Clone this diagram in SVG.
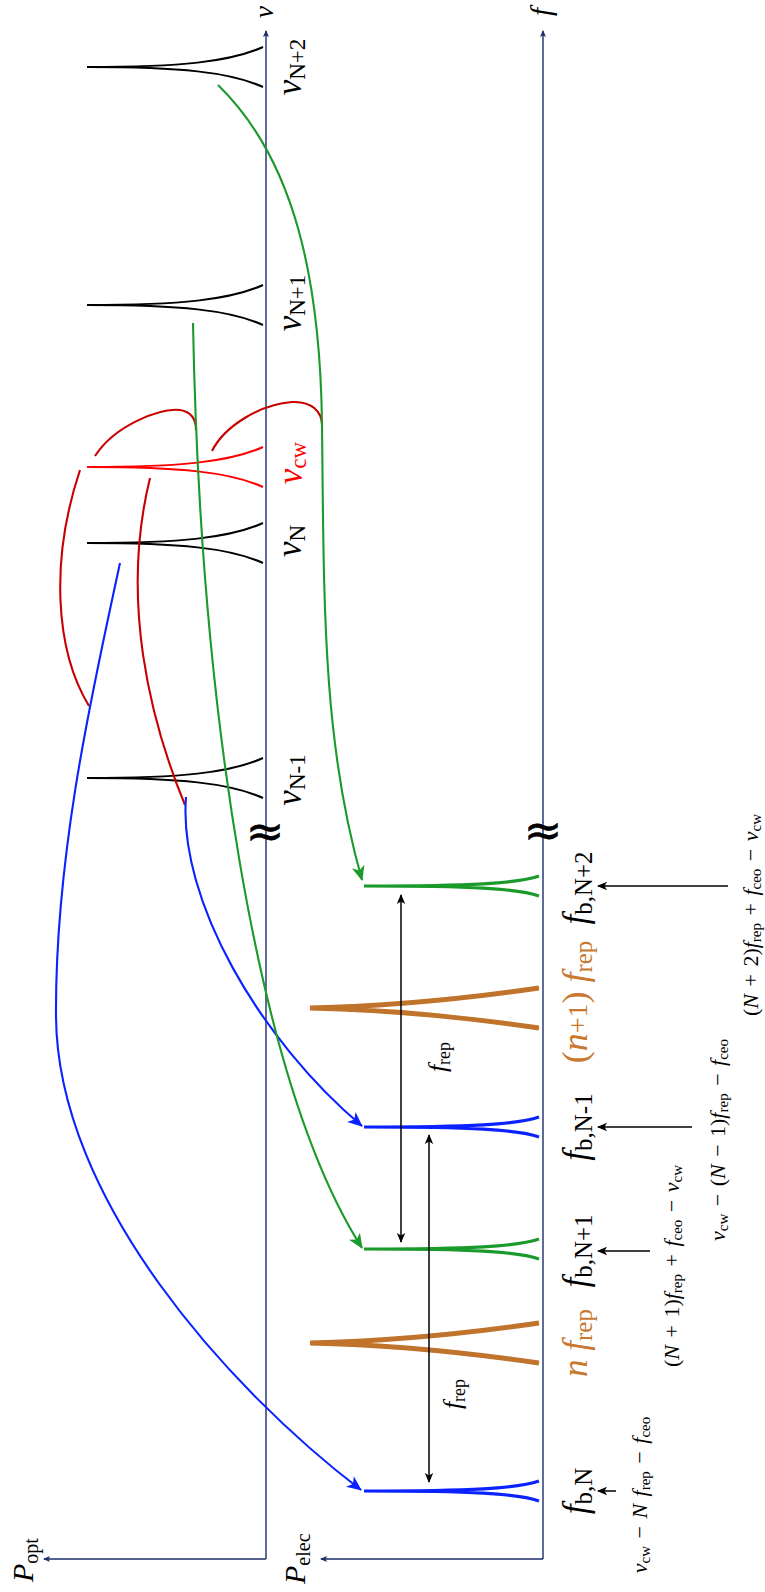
<svg xmlns="http://www.w3.org/2000/svg" width="765" height="1592" viewBox="0 0 765 1592">
<defs>
<style>
text{font-family:"Liberation Serif","DejaVu Serif",serif;fill:#000}
.it{font-style:italic}
.ax{fill:none;stroke:#1b2d6b;stroke-width:1.4}
.pk{fill:none;stroke:#000;stroke-width:2}
.pkr{fill:none;stroke:#ff0000;stroke-width:2}
.eg{fill:none;stroke:#1a9a2a;stroke-width:3.2}
.eb{fill:none;stroke:#0a22ff;stroke-width:3.2}
.ebr{fill:none;stroke:#c0732a;stroke-width:4.8}
.cb{fill:none;stroke:#0a22ff;stroke-width:2.1}
.cg{fill:none;stroke:#1a9a2a;stroke-width:2.1}
.cr{fill:none;stroke:#c80000;stroke-width:2.1}
.ar{fill:none;stroke:#000;stroke-width:1.5}
.or{fill:#c8782f}
.brk{font-family:"DejaVu Sans",sans-serif;font-size:46px;stroke:#000;stroke-width:0.6}
</style>
<marker id="mAx" viewBox="-8 -4 10 8" markerWidth="10" markerHeight="8" refX="0" refY="0" orient="auto" markerUnits="userSpaceOnUse"><path d="M1,0 L-6,-3 L-4.5,0 L-6,3 z" fill="#1b2d6b"/></marker>
<marker id="mB" viewBox="-16 -8 18 16" markerWidth="18" markerHeight="16" refX="0" refY="0" orient="auto" markerUnits="userSpaceOnUse"><path d="M1,0 L-14,-6.5 L-10,0 L-14,6.5 z" fill="#0a22ff"/></marker>
<marker id="mG" viewBox="-16 -8 18 16" markerWidth="18" markerHeight="16" refX="0" refY="0" orient="auto" markerUnits="userSpaceOnUse"><path d="M1,0 L-14,-6.5 L-10,0 L-14,6.5 z" fill="#1a9a2a"/></marker>
<marker id="mK" viewBox="-12 -6 14 12" markerWidth="14" markerHeight="12" refX="0" refY="0" orient="auto-start-reverse" markerUnits="userSpaceOnUse"><path d="M1,0 L-9,-4.2 L-6.5,0 L-9,4.2 z" fill="#000"/></marker>
<path id="opk" d="M263,-20 C230,-5 180,0 87,0 C180,0 230,5 263,20"/>
<path id="epk" d="M539,-10 C518,-2.5 470,0 364,0 C470,0 518,2.5 539,10"/>
<path id="bpk" d="M539,-20 C470,-10 400,-2 310,0 C400,2 470,10 539,20"/>
</defs>

<g id="axes">
<path class="ax" d="M266,1559 V31" marker-end="url(#mAx)"/>
<path class="ax" d="M266,1559 H44" marker-end="url(#mAx)"/>
<path class="ax" d="M543,1559 V31" marker-end="url(#mAx)"/>
<path class="ax" d="M543,1559 H321" marker-end="url(#mAx)"/>
<text class="it" font-size="27" text-anchor="middle" transform="translate(273,12) rotate(-90)">ν</text>
<text class="it" font-size="29" text-anchor="middle" transform="translate(551,12) rotate(-90)">f</text>
<text transform="translate(33,1582) rotate(-90)" font-size="30"><tspan class="it">P</tspan><tspan font-size="20" dy="5">opt</tspan></text>
<text transform="translate(305,1584) rotate(-90)" font-size="30"><tspan class="it">P</tspan><tspan font-size="20" dy="5">elec</tspan></text>
<text class="brk" text-anchor="middle" x="265" y="847">≈</text>
<text class="brk" text-anchor="middle" x="543" y="846">≈</text>
</g>

<g id="nu-N2"><use href="#opk" class="pk" transform="translate(0,67)"/>
<text transform="translate(301,67) rotate(-90)" text-anchor="middle" font-size="35"><tspan class="it">ν</tspan><tspan font-size="23" dy="4">N+2</tspan></text></g>
<g id="nu-N1"><use href="#opk" class="pk" transform="translate(0,305)"/>
<text transform="translate(301,303) rotate(-90)" text-anchor="middle" font-size="35"><tspan class="it">ν</tspan><tspan font-size="23" dy="4">N+1</tspan></text></g>
<g id="nu-cw"><use href="#opk" class="pkr" transform="translate(0,467)"/>
<text transform="translate(302,463) rotate(-90)" text-anchor="middle" font-size="35" fill="#ff0000"><tspan class="it" fill="#ff0000">ν</tspan><tspan font-size="23" dy="4" fill="#ff0000">cw</tspan></text></g>
<g id="nu-N"><use href="#opk" class="pk" transform="translate(0,543)"/>
<text transform="translate(301,541) rotate(-90)" text-anchor="middle" font-size="35"><tspan class="it">ν</tspan><tspan font-size="23" dy="4">N</tspan></text></g>
<g id="nu-Nm1"><use href="#opk" class="pk" transform="translate(0,778)"/>
<text transform="translate(301,780) rotate(-90)" text-anchor="middle" font-size="35"><tspan class="it">ν</tspan><tspan font-size="23" dy="4">N-1</tspan></text></g>

<g id="fb-N2"><use href="#epk" class="eg" transform="translate(0,886)"/>
<text transform="translate(587,888) rotate(-90)" text-anchor="middle" font-size="35"><tspan class="it">f</tspan><tspan font-size="25" dy="5">b,N+2</tspan></text></g>
<g id="frep-n1"><use href="#bpk" class="ebr" transform="translate(0,1008)"/>
<text transform="translate(587,1002) rotate(-90)" text-anchor="middle" font-size="36" class="or"><tspan class="or">(</tspan><tspan class="it or">n</tspan><tspan class="or" font-size="28">+1</tspan><tspan class="or">) </tspan><tspan class="it or">f</tspan><tspan class="or" font-size="25" dy="5">rep</tspan></text></g>
<g id="fb-Nm1"><use href="#epk" class="eb" transform="translate(0,1127)"/>
<text transform="translate(587,1127) rotate(-90)" text-anchor="middle" font-size="35"><tspan class="it">f</tspan><tspan font-size="25" dy="5">b,N-1</tspan></text></g>
<g id="fb-N1"><use href="#epk" class="eg" transform="translate(0,1249)"/>
<text transform="translate(587,1251) rotate(-90)" text-anchor="middle" font-size="35"><tspan class="it">f</tspan><tspan font-size="25" dy="5">b,N+1</tspan></text></g>
<g id="frep-n"><use href="#bpk" class="ebr" transform="translate(0,1343)"/>
<text transform="translate(587,1343) rotate(-90)" text-anchor="middle" font-size="35" class="or"><tspan class="it or">n</tspan><tspan class="or"> </tspan><tspan class="it or">f</tspan><tspan class="or" font-size="25" dy="5">rep</tspan></text></g>
<g id="fb-N"><use href="#epk" class="eb" transform="translate(0,1491)"/>
<text transform="translate(587,1491) rotate(-90)" text-anchor="middle" font-size="35"><tspan class="it">f</tspan><tspan font-size="25" dy="5">b,N</tspan></text></g>

<g id="formulas">
<text transform="translate(647,1495) rotate(-90)" text-anchor="middle" font-size="22" word-spacing="2"><tspan class="it">ν</tspan><tspan font-size="15" dy="3">cw</tspan><tspan dy="-3"> − </tspan><tspan class="it">N f</tspan><tspan font-size="15" dy="3">rep</tspan><tspan dy="-3"> − </tspan><tspan class="it">f</tspan><tspan font-size="15" dy="3">ceo</tspan></text>
<text transform="translate(679,1266) rotate(-90)" text-anchor="middle" font-size="22" word-spacing="2">(<tspan class="it">N</tspan> + 1)<tspan class="it">f</tspan><tspan font-size="15" dy="3">rep</tspan><tspan dy="-3"> + </tspan><tspan class="it">f</tspan><tspan font-size="15" dy="3">ceo</tspan><tspan dy="-3"> − </tspan><tspan class="it">ν</tspan><tspan font-size="15" dy="3">cw</tspan></text>
<text transform="translate(725,1140) rotate(-90)" text-anchor="middle" font-size="22" word-spacing="2"><tspan class="it">ν</tspan><tspan font-size="15" dy="3">cw</tspan><tspan dy="-3"> − (</tspan><tspan class="it">N</tspan> − 1)<tspan class="it">f</tspan><tspan font-size="15" dy="3">rep</tspan><tspan dy="-3"> − </tspan><tspan class="it">f</tspan><tspan font-size="15" dy="3">ceo</tspan></text>
<text transform="translate(758,915) rotate(-90)" text-anchor="middle" font-size="22" word-spacing="2">(<tspan class="it">N</tspan> + 2)<tspan class="it">f</tspan><tspan font-size="15" dy="3">rep</tspan><tspan dy="-3"> + </tspan><tspan class="it">f</tspan><tspan font-size="15" dy="3">ceo</tspan><tspan dy="-3"> − </tspan><tspan class="it">ν</tspan><tspan font-size="15" dy="3">cw</tspan></text>
<text transform="translate(446,1057) rotate(-90)" text-anchor="middle" font-size="26"><tspan class="it">f</tspan><tspan font-size="18" dy="4">rep</tspan></text>
<text transform="translate(461,1394) rotate(-90)" text-anchor="middle" font-size="26"><tspan class="it">f</tspan><tspan font-size="18" dy="4">rep</tspan></text>
</g>

<g id="connectors">
<path class="cr" d="M95,456 C115,425 160,408 180,410 C192,412 196,420 196,430"/>
<path class="cr" d="M212,451 C225,425 262,404 292,402 C312,401 322,412 322,425"/>
<path class="cr" d="M80,470 C50,560 55,650 89,706"/>
<path class="cr" d="M150,478 C120,600 150,720 185,805"/>
<path class="cb" d="M120,563 C95,680 55,850 56,1016 C57,1200 230,1390 361,1490" marker-end="url(#mB)"/>
<path class="cb" d="M186,797 C178,900 260,1040 362,1126" marker-end="url(#mB)"/>
<path class="cg" d="M193,323 C200,700 255,1080 362,1248" marker-end="url(#mG)"/>
<path class="cg" d="M218,85 C295,160 320,280 322,423 C324,600 322,740 362,880" marker-end="url(#mG)"/>
<path class="ar" d="M401,895 V1242" marker-start="url(#mK)" marker-end="url(#mK)"/>
<path class="ar" d="M429,1135 V1482" marker-start="url(#mK)" marker-end="url(#mK)"/>
<path class="ar" d="M616,1491 H598" marker-end="url(#mK)"/>
<path class="ar" d="M650,1251 H598" marker-end="url(#mK)"/>
<path class="ar" d="M692,1127 H598" marker-end="url(#mK)"/>
<path class="ar" d="M728,886 H598" marker-end="url(#mK)"/>
</g>
</svg>
